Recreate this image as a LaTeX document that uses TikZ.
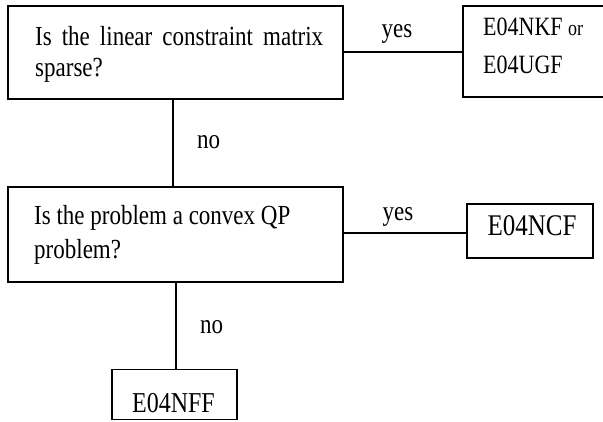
\documentclass[tikz,border=0pt]{standalone}
\usepackage{fontspec}
\setmainfont{Liberation Serif}
% the typeface of the chart is a narrow, tall Times: stretch the glyphs upward
\newcommand{\tallface}[1]{\scalebox{1}[1.2]{#1}}
\begin{document}
\begin{tikzpicture}[x=1pt, y=-1pt,
    box/.style={draw=black, line width=1.8pt, rectangle, inner sep=0pt},
    txt/.style={inner sep=0pt, anchor=base west, font=\fontsize{23}{28}\selectfont},
    lbl/.style={inner sep=0pt, anchor=base, font=\fontsize{23}{28}\selectfont},
    link/.style={draw=black, line width=1.8pt}]
  \useasboundingbox (0,0) rectangle (603,421);
  \clip (0,0) rectangle (603,421);

  % question boxes
  \node[box, minimum width=335pt, minimum height=93pt] (q1) at (175.5,52.5) {};
  \node[box, minimum width=335pt, minimum height=95pt] (q2) at (175.5,234.5) {};

  % routine boxes
  \node[box, minimum width=152pt, minimum height=91pt] (nkf) at (539,51.5) {};
  \node[box, minimum width=126pt, minimum height=54pt, line width=2.2pt] (ncf) at (530,231) {};
  \node[box, minimum width=125pt, minimum height=50pt] (nff) at (174.5,394.5) {};

  % question texts
  \node[txt] (q1a) at (35,45) {\tallface{\makebox[288pt][s]{Is the linear constraint matrix}}};
  \node[txt] (q1b) at (35,76) {\tallface{sparse?}};
  \node[txt] (q2a) at (34,224) {\tallface{Is the problem a convex QP}};
  \node[txt] (q2b) at (34,258) {\tallface{problem?}};

  % routine texts
  \node[txt, font=\fontsize{22}{26}\selectfont] (r1a) at (483,35) {\tallface{E04NKF {\fontsize{18}{22}\selectfont or}}};
  \node[txt, font=\fontsize{22}{26}\selectfont] (r1b) at (483,73) {\tallface{E04UGF}};
  \node[lbl, font=\fontsize{25}{30}\selectfont] (r2) at (532,235) {\tallface{E04NCF}};
  \node[lbl, font=\fontsize{24}{28}\selectfont] (r3) at (173.5,412) {\tallface{E04NFF}};

  % connectors
  \draw[link] (q1.east |- 0,52) -- (nkf.west |- 0,52);
  \draw[link] (q2.east |- 0,233) -- (ncf.west |- 0,233);
  \draw[link] ([xshift=-2.5pt]q1.south) -- ([xshift=-2.5pt]q2.north);
  \draw[link] ([xshift=0.5pt]q2.south) -- ([xshift=0.5pt]q2.south |- nff.north);

  % branch labels
  \node[lbl] (y1) at (397,37) {\tallface{yes}};
  \node[lbl] (y2) at (398,220) {\tallface{yes}};
  \node[txt] (n1) at (197,148) {\tallface{no}};
  \node[txt] (n2) at (200,333) {\tallface{no}};
\end{tikzpicture}
\end{document}
